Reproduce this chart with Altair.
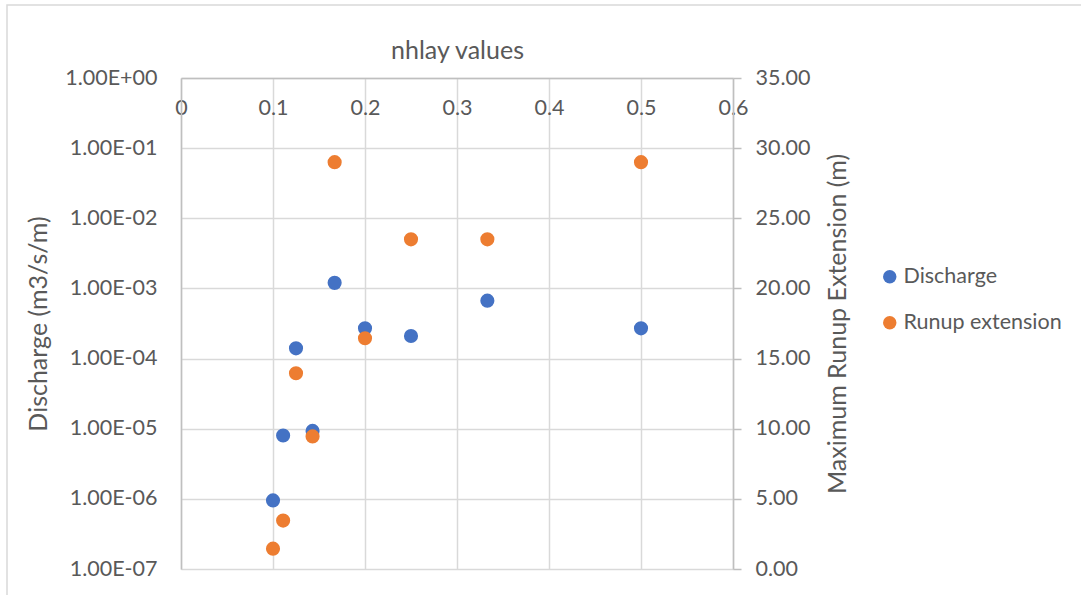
import altair as alt
import pandas as pd

# data
nhlay = [0.1, 0.111, 0.125, 0.143, 0.167, 0.2, 0.25, 0.333, 0.5]
discharge = [9.5e-7, 8.0e-6, 1.4e-4, 9.3e-6, 1.2e-3, 2.7e-4, 2.1e-4, 6.7e-4, 2.7e-4]
runup = [1.45, 3.45, 13.95, 9.45, 29.0, 16.45, 23.5, 23.5, 29.0]

series_names = ["Discharge", "Runup extension"]
series_colors = ["#4472C4", "#ED7D31"]
x_ticks = [0, 0.1, 0.2, 0.3, 0.4, 0.5, 0.6]
left_ticks = [1e-7, 1e-6, 1e-5, 1e-4, 1e-3, 1e-2, 1e-1, 1.0]
right_ticks = [0, 5, 10, 15, 20, 25, 30, 35]

df = pd.DataFrame({"nhlay": nhlay, "discharge": discharge, "runup": runup})

FONT = "Lato"
TXT = "#595959"
GRID = "#D9D9D9"
DOMAIN = "#BFBFBF"
W, H = 552, 491
TICK_FS = 21.5
TITLE_FS = 25
LEG_FS = 21.5

color = alt.Color(
    "series:N",
    scale=alt.Scale(domain=series_names, range=series_colors),
    legend=alt.Legend(
        title=None,
        orient="none",
        legendX=698,
        legendY=188,
        symbolType="circle",
        symbolSize=180,
        symbolStrokeWidth=0,
        labelFontSize=LEG_FS,
        labelColor=TXT,
        labelOffset=3,
        labelLimit=400,
        rowPadding=23,
        padding=0,
    ),
)

x_enc = alt.X(
    "nhlay:Q",
    scale=alt.Scale(domain=[0, 0.6], nice=False, zero=False),
    axis=alt.Axis(
        orient="top",
        values=x_ticks,
        format="~g",
        title="nhlay values",
        titleFontSize=TITLE_FS,
        titleFontWeight="normal",
        titleColor=TXT,
        titleY=-28,
        titleBaseline="middle",
        labelFontSize=TICK_FS,
        labelColor=TXT,
        labelPadding=-30,
        labelBaseline="middle",
        labelFlush=False,
        ticks=False,
        tickSize=0,
        domainColor=DOMAIN,
        domainWidth=1.5,
        grid=True,
        gridColor=GRID,
        gridWidth=1.5,
    ),
)

base = alt.Chart(df)

left = base.transform_calculate(series="'Discharge'").mark_circle(
    size=200, opacity=1
).encode(
    x=x_enc,
    y=alt.Y(
        "discharge:Q",
        scale=alt.Scale(type="log", domain=[1e-7, 1], nice=False),
        axis=alt.Axis(
            orient="left",
            values=left_ticks,
            labelExpr="'1.00E' + (round(log(datum.value)/LN10) >= 0 ? '+00' : '-0' + (-round(log(datum.value)/LN10)))",
            title="Discharge (m3/s/m)",
            titleFontSize=TITLE_FS,
            titleFontWeight="normal",
            titleColor=TXT,
            titleAngle=270,
            titleX=-143,
            titleY=H / 2,
            titleAlign="center",
            titleBaseline="middle",
            labelFontSize=TICK_FS,
            labelColor=TXT,
            labelPadding=24,
            labelFlush=False,
            ticks=False,
            tickSize=0,
            domainColor=DOMAIN,
            domainWidth=1.5,
            grid=True,
            gridColor=GRID,
            gridWidth=1.5,
        ),
    ),
    color=color,
)

right = base.transform_calculate(series="'Runup extension'").mark_circle(
    size=200, opacity=1
).encode(
    x=x_enc,
    y=alt.Y(
        "runup:Q",
        scale=alt.Scale(domain=[0, 35], nice=False),
        axis=alt.Axis(
            orient="right",
            values=right_ticks,
            format=".2f",
            title="Maximum Runup Extension (m)",
            titleFontSize=TITLE_FS,
            titleFontWeight="normal",
            titleColor=TXT,
            titleAngle=270,
            titleX=104,
            titleY=H / 2,
            titleAlign="center",
            titleBaseline="middle",
            labelFontSize=TICK_FS,
            labelColor=TXT,
            labelPadding=14,
            labelFlush=False,
            ticks=True,
            tickSize=8,
            tickColor=DOMAIN,
            tickWidth=1.5,
            domainColor=DOMAIN,
            domainWidth=1.5,
            grid=False,
        ),
    ),
    color=color,
)

border = alt.Chart(alt.Data(values=[{"a": 1}])).mark_rect(
    fillOpacity=0, stroke="#D9D9D9", strokeWidth=1.5
).encode(
    x=alt.value(-174), x2=alt.value(1000), y=alt.value(-73), y2=alt.value(600)
)

chart = (
    alt.layer(border, left, right)
    .resolve_scale(y="independent")
    .properties(
        width=W,
        height=H,
        autosize="none",
        padding={"left": 181, "top": 78, "right": 348, "bottom": 26},
        background="white",
    )
    .configure(font=FONT)
    .configure_view(stroke=None)
)

chart.save("out.html", embed_options={"renderer": "svg", "actions": False})
